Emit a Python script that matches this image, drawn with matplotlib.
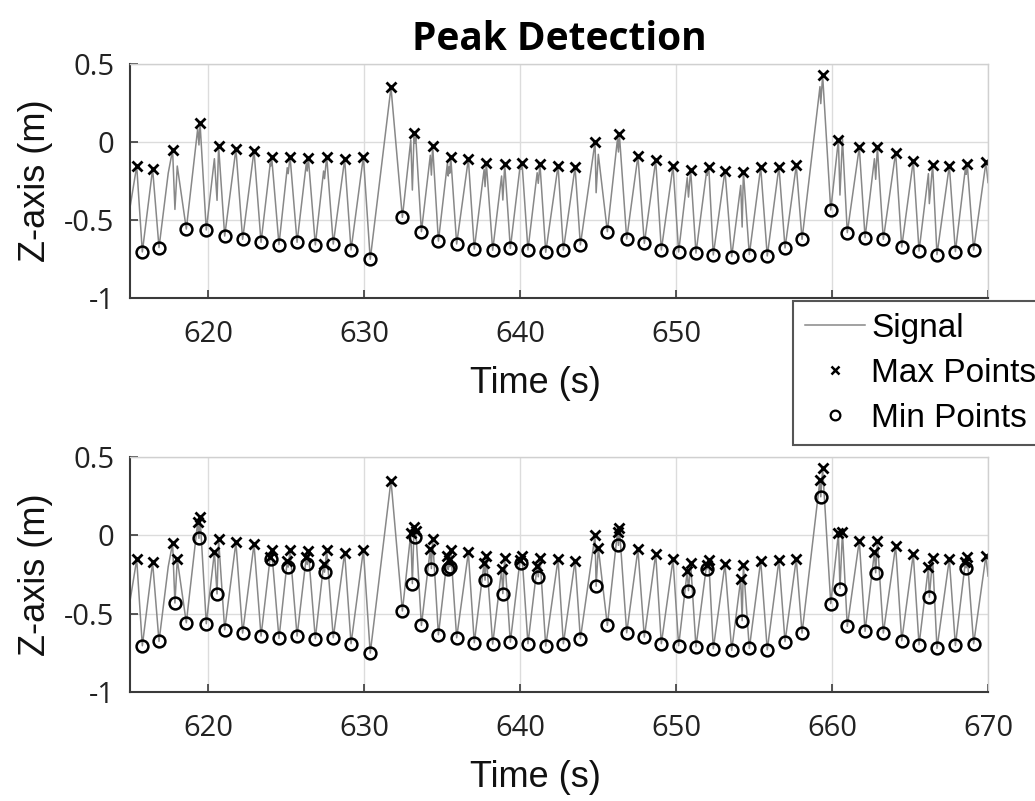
import matplotlib
matplotlib.use("Agg")
import matplotlib.pyplot as plt
from matplotlib.lines import Line2D

# ---------------- data ----------------
max_t = [615.43, 616.45, 617.73, 619.49, 620.68, 621.79, 622.95, 624.08, 625.26, 626.43,
         627.61, 628.76, 629.96, 631.73, 633.21, 634.40, 635.56, 636.69, 637.84, 639.02,
         640.13, 641.28, 642.44, 643.53, 644.81, 646.37, 647.56, 648.70, 649.81, 650.94,
         652.10, 653.14, 654.32, 655.43, 656.60, 657.71, 659.40, 660.41, 661.75, 662.91,
         664.08, 665.21, 666.45, 667.52, 668.67, 669.87]
max_z = [-0.154, -0.173, -0.051, 0.12, -0.026, -0.045, -0.056, -0.094, -0.094, -0.10,
         -0.094, -0.111, -0.094, 0.35, 0.056, -0.024, -0.094, -0.109, -0.132, -0.143,
         -0.132, -0.143, -0.152, -0.162, 0.0, 0.049, -0.09, -0.118, -0.154, -0.179,
         -0.158, -0.184, -0.19, -0.162, -0.158, -0.15, 0.427, 0.013, -0.034, -0.034,
         -0.068, -0.12, -0.147, -0.152, -0.141, -0.13]

min_t = [615.79, 616.86, 618.61, 619.89, 621.07, 622.22, 623.40, 624.55, 625.71, 626.88,
         628.03, 629.17, 630.40, 632.46, 633.68, 634.77, 635.94, 637.07, 638.25, 639.38,
         640.51, 641.65, 642.78, 643.87, 645.60, 646.84, 647.97, 649.06, 650.17, 651.28,
         652.39, 653.57, 654.70, 655.85, 656.99, 658.08, 659.92, 660.98, 662.12, 663.29,
         664.47, 665.58, 666.73, 667.91, 669.08]
min_z = [-0.705, -0.677, -0.558, -0.564, -0.603, -0.624, -0.643, -0.658, -0.643, -0.66,
         -0.654, -0.692, -0.752, -0.483, -0.575, -0.635, -0.654, -0.686, -0.694, -0.682,
         -0.692, -0.707, -0.692, -0.66, -0.575, -0.622, -0.65, -0.692, -0.705, -0.712,
         -0.724, -0.735, -0.722, -0.731, -0.679, -0.624, -0.436, -0.581, -0.613, -0.624,
         -0.673, -0.699, -0.722, -0.703, -0.692]

# additional (false) detections shown only in the lower panel
extra_max_t = [618.03, 619.34, 620.41, 623.99, 625.08, 626.30, 627.41, 633.00, 633.32, 634.25,
               635.35, 635.45, 637.70, 638.82, 640.00, 641.10, 645.02, 646.25, 650.72, 651.96,
               654.15, 659.23, 660.67, 662.72, 666.18, 668.55]
extra_max_z = [-0.154, 0.085, -0.107, -0.137, -0.165, -0.139, -0.186, 0.013, 0.03, -0.085,
               -0.133, -0.16, -0.175, -0.218, -0.16, -0.197, -0.079, 0.021, -0.229, -0.19,
               -0.278, 0.355, 0.021, -0.107, -0.203, -0.17]
extra_min_t = [617.88, 619.42, 620.58, 624.03, 625.14, 626.36, 627.47, 633.10, 633.27, 634.32,
               635.40, 635.50, 637.76, 638.90, 640.06, 641.17, 644.88, 646.31, 650.80, 652.00,
               654.24, 659.28, 660.51, 662.80, 666.24, 668.60]
extra_min_z = [-0.432, -0.019, -0.374, -0.154, -0.203, -0.186, -0.235, -0.308, -0.008, -0.212,
               -0.218, -0.20, -0.286, -0.372, -0.175, -0.265, -0.325, -0.064, -0.353, -0.214,
               -0.545, 0.246, -0.34, -0.239, -0.395, -0.207]

# other signal samples (shoulders / ends)
other_t = [615.0, 617.45, 629.85, 670.0]
other_z = [-0.42, -0.20, -0.18, -0.26]

x_ticks = [620, 630, 640, 650, 660, 670]
x_tick_labels_top = ["620", "630", "640", "650", "660", ""]   # 670 hidden under legend
x_tick_labels_bottom = ["620", "630", "640", "650", "660", "670"]
y_ticks = [-1, -0.5, 0, 0.5]
y_tick_labels = ["-1", "-0.5", "0", "0.5"]

# signal passes through every sample, in time order
sig = sorted(zip(max_t + min_t + extra_max_t + extra_min_t + other_t,
                 max_z + min_z + extra_max_z + extra_min_z + other_z))
signal_t = [p[0] for p in sig]
signal_z = [p[1] for p in sig]

# ---------------- figure ----------------
W, H = 1035, 801
fig = plt.figure(figsize=(W / 100, H / 100), dpi=100)

def frac_box(l, t, r, b):
    return [l / W, 1 - b / H, (r - l) / W, (b - t) / H]

ax1 = fig.add_axes(frac_box(130, 64, 988, 298))
ax2 = fig.add_axes(frac_box(130, 457, 988, 692))

sig_color = "#888888"
tick_font = "Open Sans"
label_font = "Liberation Sans"

def style(ax, xlabels):
    ax.set_xlim(615, 670)
    ax.set_ylim(-1, 0.5)
    ax.set_xticks(x_ticks)
    ax.set_xticklabels(xlabels)
    ax.set_yticks(y_ticks)
    ax.set_yticklabels(y_tick_labels)
    ax.grid(True, color="#dcdcdc", linewidth=1.0)
    ax.set_axisbelow(True)
    for s in ("top", "right"):
        ax.spines[s].set_color("#d0d0d0")
        ax.spines[s].set_linewidth(1.0)
    for s in ("left", "bottom"):
        ax.spines[s].set_color("#3a3a3a")
        ax.spines[s].set_linewidth(1.5)
    ax.tick_params(direction="in", length=6, width=1.2, color="#3a3a3a",
                   top=False, right=False, labelsize=21, labelcolor="#222222")
    ax.tick_params(axis="x", pad=16)
    ax.tick_params(axis="y", pad=11)
    for lab in ax.get_xticklabels() + ax.get_yticklabels():
        lab.set_fontfamily(tick_font)
    ax.set_xlabel("Time (s)", fontsize=26, fontfamily=label_font, color="#111111")
    ax.xaxis.set_label_coords(0.472, -0.29)
    ax.set_ylabel("Z-axis (m)", fontsize=26, fontfamily=label_font, color="#111111")
    ax.yaxis.set_label_coords(-0.09, 0.5)

mk_x = dict(linestyle="none", marker="x", color="black", markersize=6.5, markeredgewidth=2.0)
mk_o = dict(linestyle="none", marker="o", markerfacecolor="none", markeredgecolor="black",
            markersize=8.5, markeredgewidth=1.8)

# top panel
ax1.plot(signal_t, signal_z, color=sig_color, linewidth=1.1)
ax1.plot(max_t, max_z, **mk_x)
ax1.plot(min_t, min_z, **mk_o)
style(ax1, x_tick_labels_top)
ax1.set_title("Peak Detection", fontsize=28, fontweight="bold", fontfamily="Open Sans",
              pad=10)

# bottom panel
ax2.plot(signal_t, signal_z, color=sig_color, linewidth=1.1)
ax2.plot(max_t + extra_max_t, max_z + extra_max_z, **mk_x)
ax2.plot(min_t + extra_min_t, min_z + extra_min_z, **mk_o)
style(ax2, x_tick_labels_bottom)

# legend
handles = [
    Line2D([], [], color=sig_color, linewidth=1.1),
    Line2D([], [], linestyle="none", marker="x", color="black", markersize=5.5, markeredgewidth=1.8),
    Line2D([], [], linestyle="none", marker="o", markerfacecolor="none",
           markeredgecolor="black", markersize=7, markeredgewidth=1.6),
]
leg = fig.legend(handles, ["Signal", "Max Points", "Min Points"],
                 loc="upper left", bbox_to_anchor=(793 / W, 1 - 301 / H),
                 prop={"family": label_font, "size": 24},
                 frameon=True, fancybox=False, framealpha=1.0,
                 edgecolor="#555555", facecolor="white",
                 handlelength=1.8, handletextpad=0.2, labelspacing=0.42,
                 borderpad=0.35, borderaxespad=0.0)
leg.get_frame().set_linewidth(1.5)
leg.set_zorder(10)

fig.savefig("out.png", dpi=100)
